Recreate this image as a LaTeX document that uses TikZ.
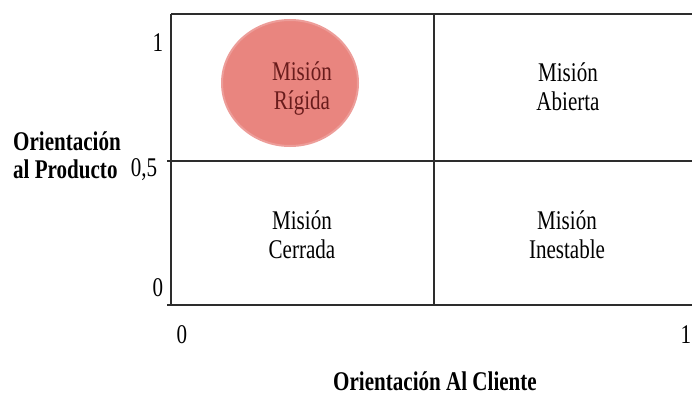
\documentclass[tikz,border=0pt]{standalone}
\usepackage{fontspec}
\setmainfont{Liberation Serif}[FakeStretch=0.78]
\usepackage{tikz}
\usetikzlibrary{shapes, positioning}
\definecolor{my_salmon}{RGB}{233, 133, 127}
\definecolor{my_darkred}{RGB}{105, 28, 28}
\definecolor{my_grid}{RGB}{45, 45, 45}
\tikzset {
  gridline/.style = {draw=my_grid, line width=1.8pt},
  quadrant/.style = {align=center, inner sep=0pt, font=\fontsize{27}{29}\selectfont},
  blob/.style = {ellipse, fill=my_salmon, draw=my_salmon!80!white, line width=2pt, minimum width=136pt, minimum height=126pt, inner sep=0pt},
  ticklabel/.style = {inner sep=0pt, anchor=base, font=\fontsize{27}{29}\selectfont},
  axislabel/.style = {inner sep=0pt, align=left, font=\fontsize{27}{28}\selectfont\bfseries}
}

\begin{document}
\begin{tikzpicture}[x=1pt, y=-1pt]
    \useasboundingbox (0,0) rectangle (692,396);

    % quadrant grid
    \coordinate (topleft) at (171,14);
    \coordinate (topmid) at (434,14);
    \coordinate (topright) at (692,14);
    \coordinate (midleft) at (167,161);
    \coordinate (midright) at (692,161);
    \coordinate (botleft) at (167,305);
    \coordinate (botaxis) at (171,305);
    \coordinate (botmid) at (434,305);
    \coordinate (botright) at (692,305);

    \node[blob, name=rigidablob] (rigidablob) at (290,83) {};

    \draw[gridline] (topleft) -- (topright);
    \draw[gridline] (midleft) -- (midright);
    \draw[gridline] (botleft) -- (botright);
    \draw[gridline, line width=1.5pt] (topleft) -- (botaxis);
    \draw[gridline, line width=1.5pt] (topmid) -- (botmid);

    \node[quadrant, text=my_darkred, name=rigida] (rigida) at (302,89) {Misión\\Rígida};
    \node[quadrant, name=abierta] (abierta) at (568,87) {Misión\\Abierta};
    \node[quadrant, name=cerrada] (cerrada) at (302,235) {Misión\\Cerrada};
    \node[quadrant, name=inestable] (inestable) at (567,235) {Misión\\Inestable};

    % axis values
    \node[ticklabel] (yone) at (158,52) {1};
    \node[ticklabel] (yhalf) at (144,176) {0,5};
    \node[ticklabel] (yzero) at (158,296) {0};
    \node[ticklabel] (xzero) at (182,343) {0};
    \node[ticklabel] (xone) at (686,343) {1};

    \node[axislabel, anchor=west] (producto) at (13,155.5) {Orientación\\al Producto};
    \node[axislabel, anchor=base] (cliente) at (435,390) {Orientación Al Cliente};
\end{tikzpicture}
\end{document}
